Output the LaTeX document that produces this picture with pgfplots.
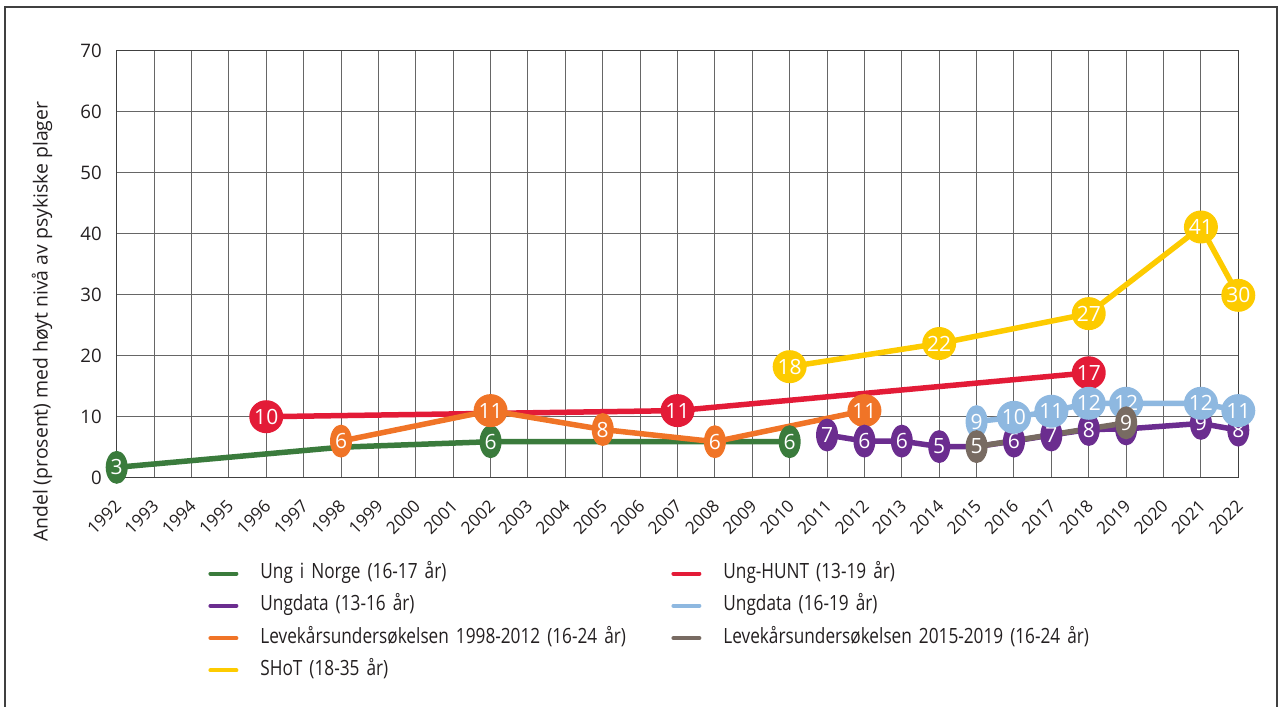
\documentclass[border=0pt]{standalone}
\usepackage{fontspec}
\setmainfont{Open Sans}
\newfontfamily\condfont[FakeStretch=0.82]{Open Sans}
\usepackage{pgfplots}
\pgfplotsset{compat=1.18}
\usetikzlibrary{shapes.geometric}

\definecolor{cgreen}{HTML}{3A7B3C}
\definecolor{cred}{HTML}{E31B37}
\definecolor{cpurple}{HTML}{6B2D8F}
\definecolor{cblue}{HTML}{8EB8E0}
\definecolor{corange}{HTML}{F07427}
\definecolor{cbrown}{HTML}{786B62}
\definecolor{cyellow}{HTML}{FDCB00}
\definecolor{ctext}{HTML}{231F20}

\pgfplotsset{
  ln/.style={#1, line width=2.75bp, mark=none, line join=round, forget plot},
  lab/.style={draw=none, mark=none, forget plot, nodes near coords,
    point meta=explicit symbolic,
    every node near coord/.append style={fill=#1}},
}

\begin{document}
\begin{tikzpicture}
\useasboundingbox (0,0) rectangle (641bp,-353.5bp);
\draw[black!75, line width=0.8bp] (2.5bp,-360bp) -- (2.5bp,-3.35bp) -- (638.4bp,-3.35bp) -- (638.4bp,-360bp);
\begin{axis}[
  at={(58.35bp,-238.85bp)}, anchor=south west,
  scale only axis, width=560.8bp, height=213.5bp,
  xmin=1992, xmax=2022, ymin=0, ymax=70,
  xtick={1992,1993,...,2022}, ytick={0,10,...,70},
  major tick length=0pt,
  grid=major,
  major grid style={black!60, line width=0.5bp},
  axis line style={black!75, line width=0.6bp},
  clip=false,
  font=\fontsize{9.3bp}{11bp}\selectfont,
  tick label style={text=ctext},
  /pgf/number format/assume math mode=true,
  /pgf/number format/set thousands separator={},
  xticklabel style={xshift=1.5bp, yshift=-12bp, rotate=45, anchor=east, inner sep=1bp,
    font=\fontsize{8.6bp}{9bp}\selectfont},
  yticklabel style={xshift=-4bp},
  ylabel={Andel (prosent) med høyt nivå av psykiske plager},
  ylabel style={at={(axis description cs:-0.0666,0.365)}, anchor=center, text=ctext,
    font=\fontsize{9.7bp}{11bp}\selectfont},
  every node near coord/.append style={anchor=center, ellipse, inner sep=0pt,
    minimum width=11bp, minimum height=16.5bp, text=white,
    font=\fontsize{10.5bp}{10.5bp}\selectfont},
  legend columns=2,
  legend image code/.code={\draw[line width=2bp, line cap=round, #1] (0bp,0bp) -- (13bp,0bp);},
  legend style={at={(axis description cs:0.0814,-0.2)}, anchor=north west,
    draw=none, fill=none, inner sep=0pt, column sep=11bp, row sep=6.15bp,
    nodes={text width=194.5bp, align=left, inner sep=0pt, text height=7.5bp, text depth=2.5bp,
      text=ctext, font=\condfont\fontsize{10.5bp}{12bp}\selectfont}},
]
\addlegendimage{cgreen}\addlegendentry{Ung i Norge (16-17 år)}
\addlegendimage{cred}\addlegendentry{Ung-HUNT (13-19 år)}
\addlegendimage{cpurple}\addlegendentry{Ungdata (13-16 år)}
\addlegendimage{cblue}\addlegendentry{Ungdata (16-19 år)}
\addlegendimage{corange}\addlegendentry{Levekårsundersøkelsen 1998-2012 (16-24 år)}
\addlegendimage{cbrown}\addlegendentry{Levekårsundersøkelsen 2015-2019 (16-24 år)}
\addlegendimage{cyellow}\addlegendentry{SHoT (18-35 år)}

% Ung i Norge
\addplot[ln=cgreen] coordinates {(1992,1.7) (1998,5.0) (2002,5.9) (2010,5.9)};
\addplot[lab=cgreen] coordinates {(1992,1.7) [3] (2002,5.9) [6] (2010,5.9) [6]};
% Ung-HUNT
\addplot[ln=cred] coordinates {(1996,10) (2007,11) (2018,17.2)};
\addplot[lab=cred] coordinates {(1996,10) [10] (2007,11) [11] (2018,17.2) [17]};
% Levekaar 1998-2012
\addplot[ln=corange] coordinates {(1998,6) (2002,11) (2005,7.9) (2008,5.9) (2012,11)};
\addplot[lab=corange] coordinates {(1998,6) [6] (2002,11) [11] (2005,7.9) [8] (2008,5.9) [6] (2012,11) [11]};
% Ungdata 13-16 and Levekaar 2015-2019 lines
\addplot[ln=cpurple] coordinates {(2011,7) (2012,6) (2013,6) (2014,5.1) (2015,5.1) (2016,6) (2017,7) (2018,7.9) (2019,8) (2021,8.9) (2022,7.8)};
\addplot[ln=cbrown] coordinates {(2015,5.1) (2019,9)};
\addplot[lab=cpurple] coordinates {(2011,7) [7] (2012,6) [6] (2013,6) [6] (2014,5.1) [5] (2016,6) [6] (2017,7) [7] (2018,7.9) [8] (2019,8) [8] (2021,8.9) [9] (2022,7.8) [8]};
% Ungdata 16-19
\addplot[ln=cblue] coordinates {(2015,9.2) (2016,9.9) (2017,10.9) (2018,12.2) (2019,12.2) (2021,12.2) (2022,11)};
\addplot[lab=cblue] coordinates {(2015,9.2) [9] (2016,9.9) [10] (2017,10.9) [11] (2018,12.2) [12] (2019,12.2) [12] (2021,12.2) [12] (2022,11) [11]};
\addplot[lab=cbrown] coordinates {(2015,5.1) [5] (2019,9) [9]};
% SHoT
\addplot[ln=cyellow] coordinates {(2010,18.2) (2014,22) (2018,26.9) (2021,41.1) (2022,29.9)};
\addplot[lab=cyellow] coordinates {(2010,18.2) [18] (2014,22) [22] (2018,26.9) [27] (2021,41.1) [41] (2022,29.9) [30]};
\end{axis}
\end{tikzpicture}
\end{document}
